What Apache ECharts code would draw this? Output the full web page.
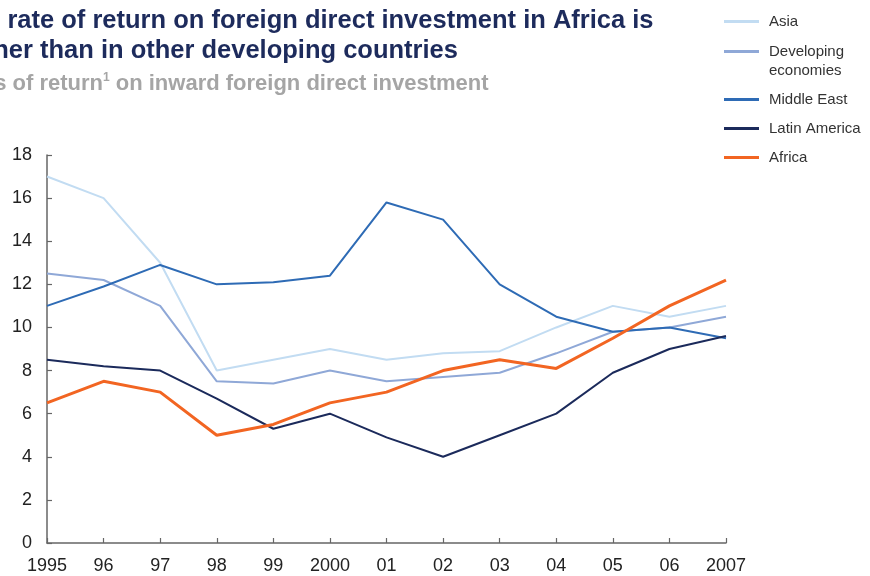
<!DOCTYPE html>
<html>
<head>
<meta charset="utf-8">
<script src="https://cdn.jsdelivr.net/npm/echarts@6/dist/echarts.min.js"></script>
<style>
  html, body { margin: 0; padding: 0; background: #fff; }
  #chart { width: 870px; height: 576px; }
</style>
</head>
<body>
<div id="chart"></div>
<script>
// years on the x axis
const years = ['1995', '96', '97', '98', '99', '2000', '01', '02', '03', '04', '05', '06', '2007']

// rates of return, per cent
const asia = [17.0, 16.0, 13.0, 8.0, 8.5, 9.0, 8.5, 8.8, 8.9, 10.0, 11.0, 10.5, 11.0]
const developing = [12.5, 12.2, 11.0, 7.5, 7.4, 8.0, 7.5, 7.7, 7.9, 8.8, 9.8, 10.0, 10.5]
const middleEast = [11.0, 11.9, 12.9, 12.0, 12.1, 12.4, 15.8, 15.0, 12.0, 10.5, 9.8, 10.0, 9.5]
const latinAmerica = [8.5, 8.2, 8.0, 6.7, 5.3, 6.0, 4.9, 4.0, 5.0, 6.0, 7.9, 9.0, 9.6]
const africa = [6.5, 7.5, 7.0, 5.0, 5.5, 6.5, 7.0, 8.0, 8.5, 8.1, 9.5, 11.0, 12.2]

const FONT = '"Liberation Sans", Arial, Helvetica, sans-serif'
const chart = echarts.init(document.getElementById('chart'))

function lineSeries(name, data, color, width) {
  return {
    name,
    type: 'line',
    data,
    symbol: 'none',
    lineStyle: { color, width },
    itemStyle: { color },
  }
}

const legendBase = {
  orient: 'vertical',
  left: 724,
  padding: 0,
  icon: 'rect',
  itemWidth: 35,
  itemHeight: 3,
  selectedMode: false,
  textStyle: { fontFamily: FONT, fontSize: 15, color: '#333', lineHeight: 19, padding: [0, 0, 0, 5] },
}

chart.setOption({
  animation: false,
  title: [
    {
      text: 'The rate of return on foreign direct investment in Africa is\nhigher than in other developing countries',
      left: -45,
      top: 6,
      padding: 0,
      textStyle: { fontFamily: FONT, fontSize: 25.5, fontWeight: 'bold', color: '#1d2b5c', lineHeight: 30 },
    },
    {
      text: 'Rates of return{sup|1} on inward foreign direct investment',
      left: -53.5,
      top: 72,
      padding: 0,
      textStyle: {
        fontFamily: FONT, fontSize: 22, fontWeight: 'bold', color: '#a5a5a5', lineHeight: 24,
        rich: { sup: { fontFamily: FONT, fontSize: 12, fontWeight: 'bold', color: '#a5a5a5', verticalAlign: 'top', lineHeight: 24 } },
      },
    },
  ],
  legend: [
    Object.assign({}, legendBase, {
      top: 12,
      itemGap: -8,
      data: ['Asia', 'Developing economies'],
      // leading blank line keeps the first text line level with the icon
      formatter: n => n === 'Developing economies' ? '\nDeveloping\neconomies' : n,
    }),
    Object.assign({}, legendBase, {
      top: 90,
      itemGap: 10,
      data: ['Middle East', 'Latin America', 'Africa'],
    }),
  ],
  grid: { left: 47, right: 144, top: 155, bottom: 33, containLabel: false, outerBoundsMode: 'none' },
  xAxis: {
    type: 'category',
    data: years,
    boundaryGap: false,
    axisLine: { lineStyle: { color: '#666', width: 1.5 } },
    axisTick: { inside: true, length: 5, lineStyle: { color: '#666', width: 1.2 } },
    axisLabel: { fontFamily: FONT, fontSize: 18, color: '#222', margin: 14, interval: 0 },
    splitLine: { show: false },
  },
  yAxis: {
    type: 'value',
    min: 0,
    max: 18,
    interval: 2,
    axisLine: { show: true, lineStyle: { color: '#666', width: 1.5 } },
    axisTick: { show: true, inside: true, length: 5, lineStyle: { color: '#666', width: 1.2 } },
    axisLabel: { fontFamily: FONT, fontSize: 18, color: '#222', margin: 15 },
    splitLine: { show: false },
  },
  series: [
    lineSeries('Asia', asia, '#c2dcf2', 2),
    lineSeries('Developing economies', developing, '#8fa8d7', 2),
    lineSeries('Middle East', middleEast, '#2e6bb5', 2),
    lineSeries('Latin America', latinAmerica, '#1b2a5b', 2),
    lineSeries('Africa', africa, '#f26522', 3),
  ],
})
</script>
</body>
</html>
